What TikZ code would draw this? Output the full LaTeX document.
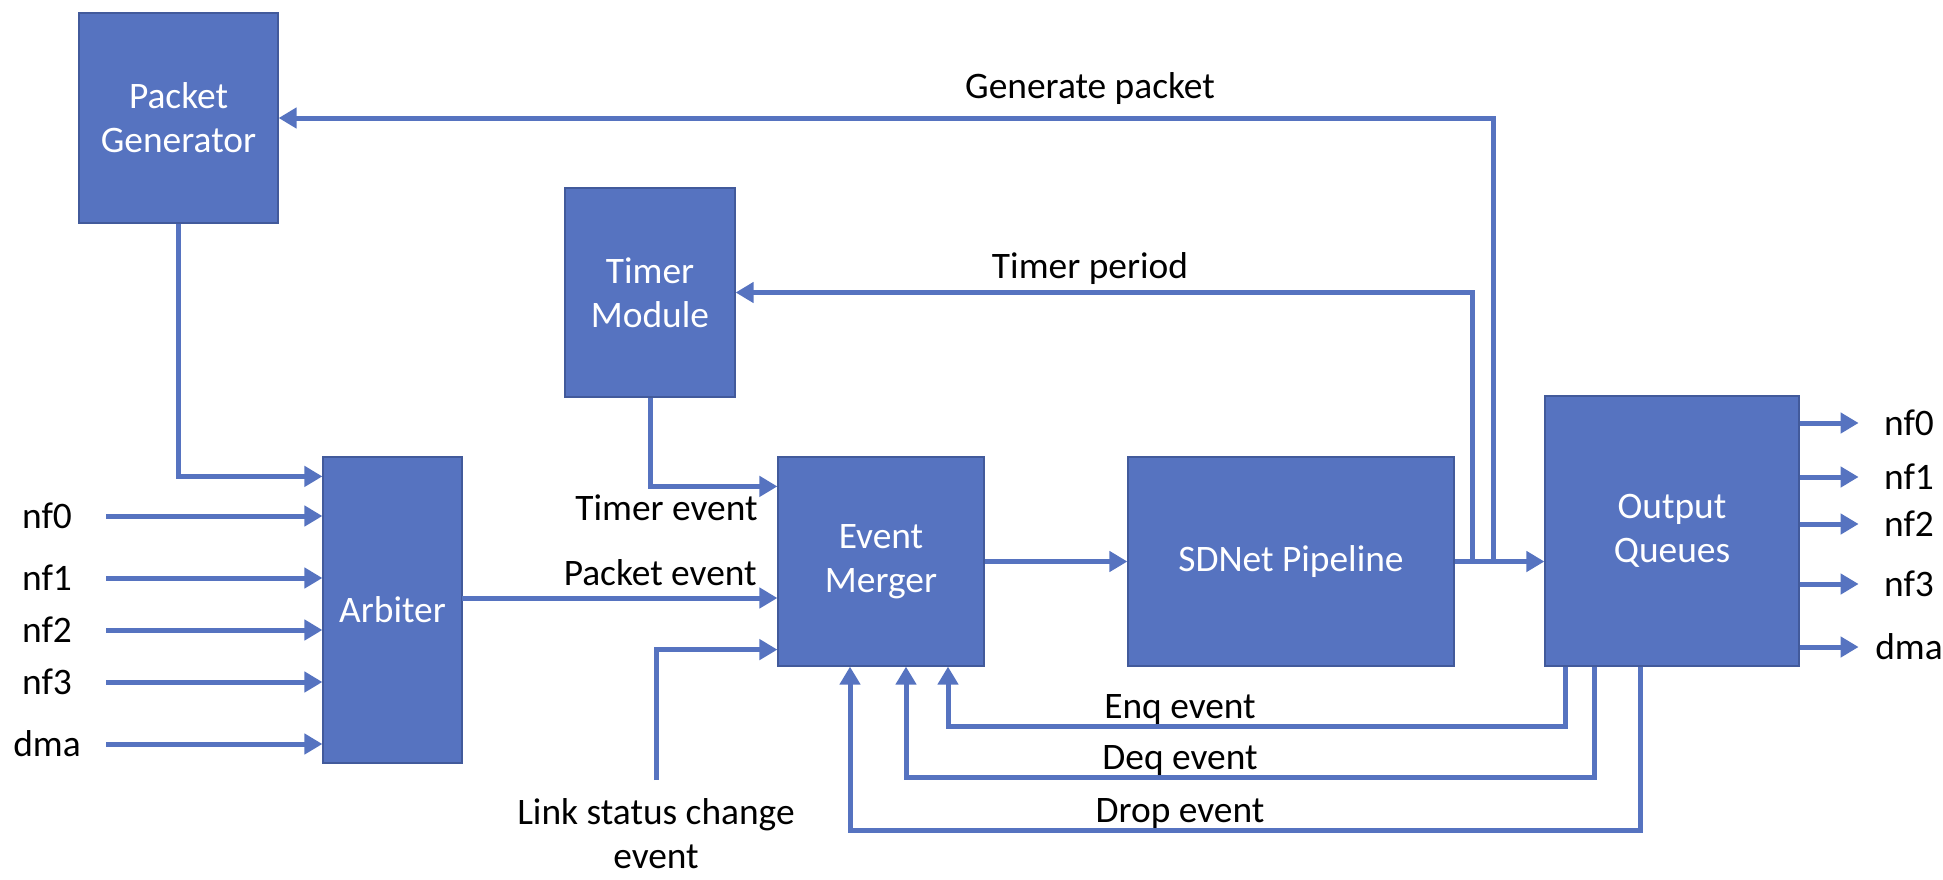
\documentclass[tikz,border=0pt]{standalone}
\usepackage{fontspec}
\setmainfont{Carlito}
\usepackage{tikz}
\usetikzlibrary{arrows.meta,calc}
\definecolor{blockblue}{RGB}{86,115,192}
\definecolor{blockedge}{RGB}{66,90,155}
\tikzset{
  block/.style={rectangle, fill=blockblue, draw=blockedge, line width=0.6pt, text=white, align=center, inner sep=0pt},
  connect/.style={-{Triangle[length=9pt,width=10pt]}, draw=blockblue, line width=2.5pt},
  lbl/.style={inner sep=0pt, text=black},
  inlbl/.style={lbl, minimum width=59pt},
  outlbl/.style={lbl, minimum width=50pt}
}

\begin{document}
\begin{tikzpicture}[x=0.5pt, y=-0.5pt, font=\fontsize{18.7}{22}\selectfont]
  \useasboundingbox (0,0) rectangle (1943,879);

  \node[block, minimum width=99.5pt, minimum height=105pt] (PktGen) at (178.5,118) {Packet\\Generator};
  \node[block, minimum width=85pt, minimum height=104.5pt] (Timer) at (650,292.5) {Timer\\Module};
  \node[block, minimum width=69.5pt, minimum height=153pt] (Arbiter) at (392.5,610) {Arbiter};
  \node[block, minimum width=103pt, minimum height=104.5pt] (Merger) at (881,561.5) {Event\\Merger};
  \node[block, minimum width=163pt, minimum height=104.5pt] (Pipeline) at (1291,561.5) {SDNet Pipeline};
  \node[block, minimum width=127pt, minimum height=135pt] (Queues) at (1672,531) {Output\\Queues};

  \foreach \port/\yy in {nf0/516, nf1/578, nf2/630, nf3/682, dma/744} {
    \node[inlbl] (In-\port) at (47,\yy) {\port};
    \draw[connect] (In-\port) -- (Arbiter.west |- In-\port);
  }
  \foreach \port/\yy in {nf0/423, nf1/477, nf2/524, nf3/584, dma/647} {
    \node[outlbl] (Out-\port) at (1909,\yy) {\port};
    \draw[connect] (Queues.east |- Out-\port) -- (Out-\port);
  }

  \draw[connect] (PktGen.south) |- ([yshift=-10pt]Arbiter.north west);
  \coordinate (ArbOut) at (462,598);
  \draw[connect] (ArbOut) -- (ArbOut -| Merger.west);
  \node[lbl, anchor=base east] (PktEvLbl) at (757,585) {Packet event};

  \draw[connect] (Timer.south) |- ([yshift=-15pt]Merger.north west);
  \node[lbl, anchor=base east] (TmrEvLbl) at (758,520) {Timer event};

  \node[lbl, align=center, anchor=north, inner ysep=9pt] (LinkLbl) at (656,780) {Link status change\\event};
  \draw[connect] (LinkLbl.north) |- ([yshift=8.5pt]Merger.south west);

  \path (Merger) edge [connect] (Pipeline);
  \draw[connect] (Pipeline.east) -- (Pipeline.east -| Queues.west);

  \coordinate (TapA) at (1472,560);
  \coordinate (TapB) at (1493,560);
  \draw[connect] (TapB) |- (PktGen);
  \draw[connect] (TapA) |- (Timer);
  \node[lbl, anchor=base] (GenLbl) at (1090,98) {Generate packet};
  \node[lbl, anchor=base] (PerLbl) at (1090,278) {Timer period};

  \foreach \name/\xr/\yy/\xl in {Enq/1565/726/948, Deq/1594/777/906, Drop/1640/830/850} {
    \coordinate (\name-r) at (\xr,\yy);
    \coordinate (\name-l) at (\xl,\yy);
    \draw[connect] (Queues.south -| \name-r) -- (\name-r) -| (Merger.south -| \name-l);
    \node[lbl, anchor=base] (\name-lbl) at (1180,\yy-8) {\name{} event};
  }
\end{tikzpicture}
\end{document}
